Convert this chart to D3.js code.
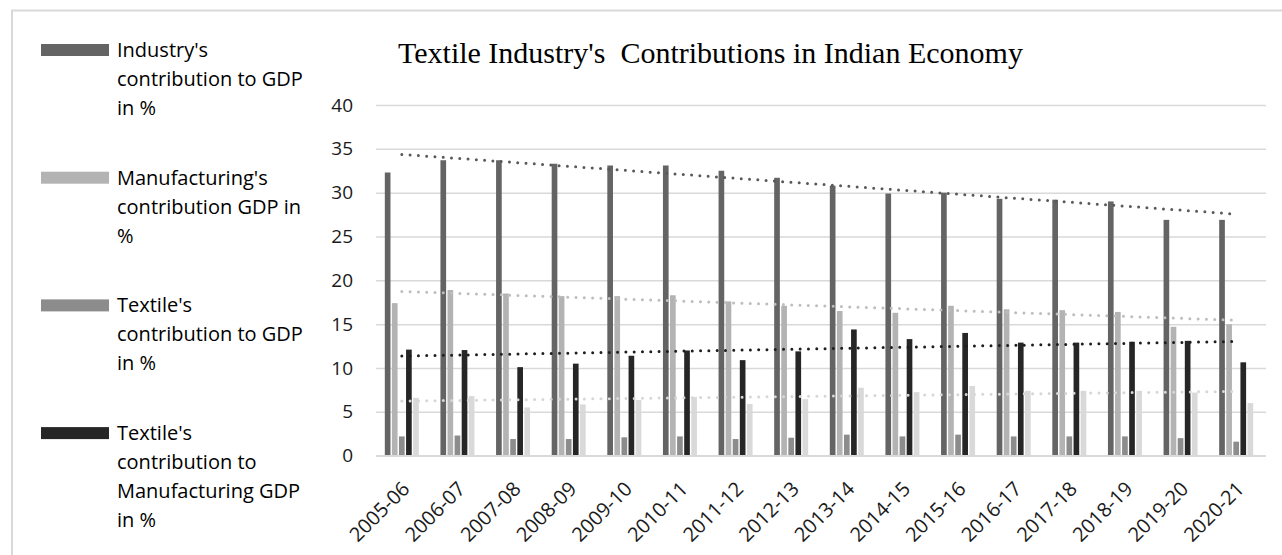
<!DOCTYPE html>
<html>
<head>
<meta charset="utf-8">
<script src="https://cdn.jsdelivr.net/npm/d3@7"></script>
<style>
  body { margin: 0; background: #fff; }
  .grid line { stroke: #d9d9d9; stroke-width: 1.5; }
  .grid path { display: none; }
  .tick text { fill: #1a1a1a; }
</style>
</head>
<body>
<div id="chart"></div>
<script>

      // data
      var years = ["2005-06","2006-07","2007-08","2008-09","2009-10","2010-11","2011-12","2012-13",
                   "2013-14","2014-15","2015-16","2016-17","2017-18","2018-19","2019-20","2020-21"];

      var industryGDP = [32.3, 33.7, 33.7, 33.3, 33.1, 33.1, 32.5, 31.7, 30.8, 29.9, 30.0, 29.3, 29.2, 29.0, 26.9, 26.9];
      var manufGDP    = [17.4, 18.9, 18.5, 18.2, 18.2, 18.3, 17.6, 17.1, 16.5, 16.3, 17.1, 16.7, 16.6, 16.4, 14.7, 15.0];
      var textileGDP  = [2.2, 2.3, 1.9, 1.9, 2.1, 2.2, 1.9, 2.05, 2.4, 2.2, 2.4, 2.2, 2.2, 2.2, 2.0, 1.6];
      var textileManf = [12.1, 12.05, 10.1, 10.5, 11.4, 12.0, 10.9, 11.9, 14.4, 13.3, 14.0, 12.9, 12.9, 13.0, 13.1, 10.65];
      var fifthSeries = [6.6, 6.8, 5.5, 5.85, 6.35, 6.7, 5.9, 6.45, 7.75, 7.25, 7.95, 7.4, 7.4, 7.4, 7.2, 6.0];

      var yTicks = [0, 5, 10, 15, 20, 25, 30, 35, 40];

      var legendLabels = [
          ["Industry's", "contribution to GDP", "in %"],
          ["Manufacturing's", "contribution GDP in", "%"],
          ["Textile's", "contribution to GDP", "in %"],
          ["Textile's", "contribution to", "Manufacturing GDP", "in %"]
      ];

      var series = [
          {key: "ind",  values: industryGDP, color: "#646464", trend: "#595959"},
          {key: "man",  values: manufGDP,    color: "#b3b3b3", trend: "#bdbdbd"},
          {key: "tex",  values: textileGDP,  color: "#8c8c8c", trend: null},
          {key: "txm",  values: textileManf, color: "#262626", trend: "#1e1e1e"},
          {key: "five", values: fifthSeries, color: "#d9d9d9", trend: "#d6d6d6"}
      ];

      var W = 1282, H = 555;

      var svg = d3.select("#chart").append("svg")
                .attr("width", W)
                .attr("height", H);

      // chart border
      svg.append("rect")
          .attr("x", 12).attr("y", 10.5)
          .attr("width", W + 20).attr("height", H + 20)
          .attr("fill", "#fff")
          .attr("stroke", "#d9d9d9")
          .attr("stroke-width", 2);

      ////// Define Scales /////////////////
      var xScale = d3.scaleBand()
          .domain(years)
          .range([374, 1264]);
      var inner = d3.scaleBand()
          .domain(series.map(function(s) { return s.key; }))
          .range([-17, 17])
          .paddingInner(0.2);
      var yScale = d3.scaleLinear()
          .domain([0, 40])
          .range([455.7, 105]);

      // grid
      var yAxisGrid = d3.axisLeft().scale(yScale).tickSize(-(1266 - 376)).tickFormat('').tickValues(yTicks);
      svg.append('g')
          .attr('class', 'grid')
          .attr('transform', 'translate(376,0)')
          .call(yAxisGrid);

      // y axis labels
      var yAxis = d3.axisLeft().scale(yScale).tickValues(yTicks).tickSize(0).tickPadding(0);
      var yg = svg.append("g")
          .attr("transform", "translate(353,0)")
          .call(yAxis);
      yg.select(".domain").remove();
      yg.selectAll("text")
          .style("font-family", "'Open Sans', sans-serif")
          .style("font-size", "19px");

      // x axis labels
      var xAxis = d3.axisBottom().scale(xScale).tickSize(0).tickPadding(0);
      var xg = svg.append("g")
          .attr("transform", "translate(-1,480)")
          .call(xAxis);
      xg.select(".domain").remove();
      xg.selectAll("text")
          .style("font-family", "'Open Sans', sans-serif")
          .style("font-size", "20px")
          .attr("text-anchor", "end")
          .attr("y", 0)
          .attr("dy", "0.71em")
          .attr("transform", "rotate(-45)");

      // bars
      series.forEach(function(s) {
          svg.append("g")
              .selectAll("rect")
              .data(s.values)
              .enter()
              .append("rect")
              .attr("x", function(d, i) {
                  return xScale(years[i]) + xScale.bandwidth() / 2 + inner(s.key);
              })
              .attr("width", inner.bandwidth())
              .attr("y", function(d) { return yScale(d); })
              .attr("height", function(d) { return yScale(0) - yScale(d); })
              .attr("fill", s.color);
      });

      // linear trend lines (least squares, like the spreadsheet does)
      function trendOf(vals) {
          var n = vals.length, mx = (n - 1) / 2, my = d3.mean(vals);
          var num = 0, den = 0;
          for (var i = 0; i < n; i++) {
              num += (i - mx) * (vals[i] - my);
              den += (i - mx) * (i - mx);
          }
          var b = num / den;
          return [{i: 0, v: my - b * mx}, {i: n - 1, v: my + b * (n - 1 - mx)}];
      }

      var line = d3.line()
          .x(function(d) { return xScale(years[d.i]) + xScale.bandwidth() / 2; })
          .y(function(d) { return yScale(d.v); });

      series.filter(function(s) { return s.trend; }).forEach(function(s) {
          svg.append("path")
              .attr("d", line(trendOf(s.values)))
              .attr("fill", "none")
              .attr("stroke", s.trend)
              .attr("stroke-width", 3)
              .attr("stroke-linecap", "round")
              .attr("stroke-dasharray", "0,8.3");
      });

      // baseline
      svg.append("line")
          .attr("x1", 376).attr("x2", 1266)
          .attr("y1", yScale(0)).attr("y2", yScale(0))
          .attr("stroke", "#d9d9d9")
          .attr("stroke-width", 1.5);

      // title
      svg.append("text")
          .attr("x", 398)
          .attr("y", 63)
          .style("font-family", "'Liberation Serif', 'Times New Roman', serif")
          .style("font-size", "30px")
          .style("white-space", "pre")
          .attr("fill", "#000")
          .text("Textile Industry's  Contributions in Indian Economy");

      // legend
      var leg = svg.append("g").selectAll("g")
          .data(legendLabels)
          .enter()
          .append("g")
          .attr("transform", function(d, i) { return "translate(0," + (i * 127.7) + ")"; });

      leg.append("rect")
          .attr("x", 41).attr("y", 44)
          .attr("width", 68).attr("height", 12)
          .attr("fill", function(d, i) { return series[i].color; });

      leg.append("text")
          .style("font-family", "'Open Sans', sans-serif")
          .style("font-size", "20px")
          .attr("fill", "#000")
          .selectAll("tspan")
          .data(function(d) { return d; })
          .enter()
          .append("tspan")
          .attr("x", 117)
          .attr("y", function(d, j) { return 57 + j * 29; })
          .text(function(d) { return d; });

</script>
</body>
</html>
